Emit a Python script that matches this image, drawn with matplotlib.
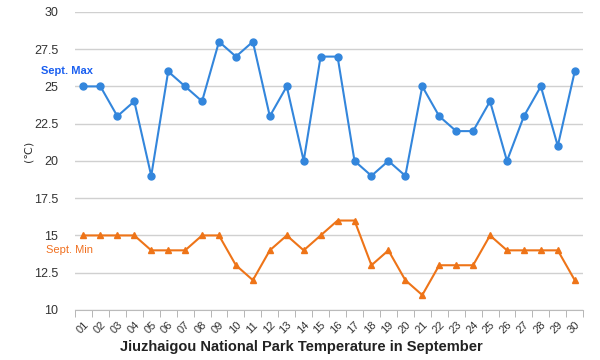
import matplotlib
matplotlib.use("Agg")
import matplotlib.pyplot as plt
import numpy as np

plt.rcParams["font.family"] = ["Liberation Sans", "DejaVu Sans"]

days = ["%02d" % d for d in range(1, 31)]
sept_max = [25, 25, 23, 24, 19, 26, 25, 24, 28, 27, 28, 23, 25, 20, 27, 27, 20, 19, 20, 19,
            25, 23, 22, 22, 24, 20, 23, 25, 21, 26]
sept_min = [15, 15, 15, 15, 14, 14, 14, 15, 15, 13, 12, 14, 15, 14, 15, 16, 16, 13, 14, 12,
            11, 13, 13, 13, 15, 14, 14, 14, 14, 12]
yticks = [10, 12.5, 15, 17.5, 20, 22.5, 25, 27.5, 30]
ytick_labels = ["10", "12.5", "15", "17.5", "20", "22.5", "25", "27.5", "30"]

fig = plt.figure(figsize=(6, 3.6), dpi=100)
ax = fig.add_axes([0.125, 0.139, 0.847, 0.828])

x = np.arange(len(days))
ax.plot(x, sept_max, color="#3386dc", lw=1.5, marker="o", ms=5, zorder=3)
ax.plot(x, sept_min, color="#ee7418", lw=1.5, marker="^", ms=5, zorder=3)

ax.set_xlim(-0.5, len(days) - 0.5)
ax.set_ylim(10, 30)
ax.set_yticks(yticks)
ax.set_yticklabels(ytick_labels, fontsize=9, color="#333333")
ax.tick_params(axis="y", length=0, pad=12)
ax.grid(axis="y", color="#d0d0d0", lw=1)
ax.set_axisbelow(True)

ax.set_xticks(x)
ax.set_xticklabels(days, rotation=45, ha="right", rotation_mode="anchor",
                   fontsize=8, color="#333333")
ax.set_xticks(np.arange(len(days) + 1) - 0.5, minor=True)
ax.tick_params(axis="x", which="major", length=0, pad=7)
ax.tick_params(axis="x", which="minor", length=5, color="#aaaaaa", direction="out")

for s in ["top", "right", "left"]:
    ax.spines[s].set_visible(False)
ax.spines["bottom"].set_color("#bbbbbb")

fig.text(0.068, 0.802, "Sept. Max", color="#1a5ff0", fontsize=8, fontweight="bold",
         ha="left", va="center")
fig.text(0.077, 0.305, "Sept. Min", color="#f07020", fontsize=8,
         ha="left", va="center")
fig.text(0.047, 0.58, "(℃)", rotation=90, fontsize=8, color="#333333",
         ha="center", va="center", family=["DejaVu Sans"])
fig.text(0.503, 0.035, "Jiuzhaigou National Park Temperature in September",
         fontsize=10.5, fontweight="bold", color="#222222", ha="center", va="center")

fig.savefig("out.png", dpi=100, facecolor="white")
